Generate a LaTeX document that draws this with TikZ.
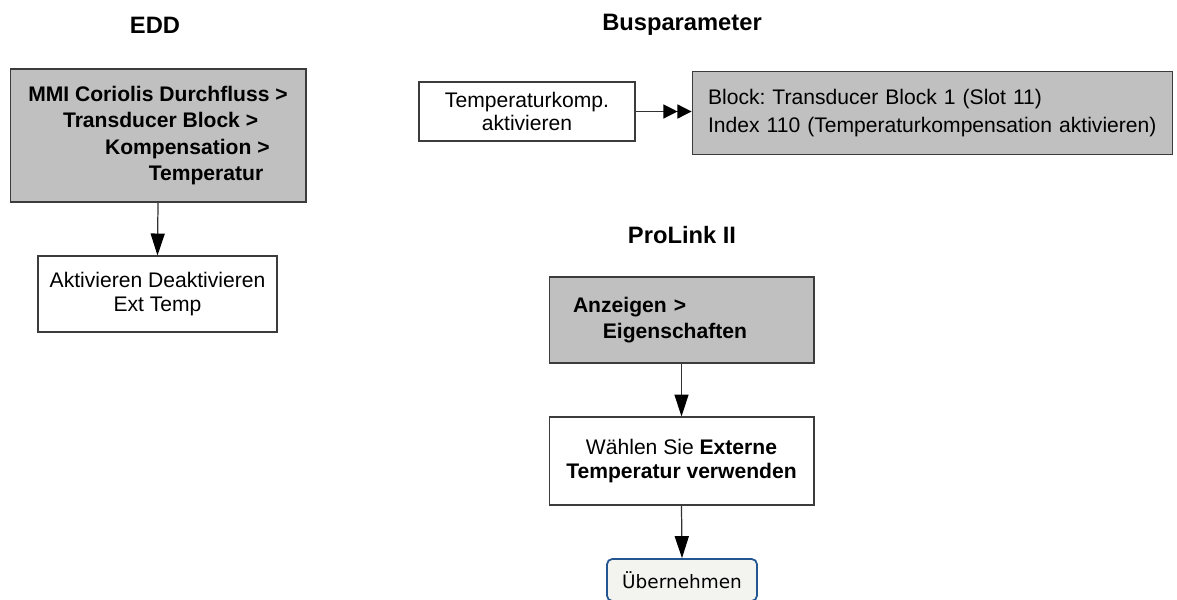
\documentclass[tikz,border=0pt]{standalone}
\usepackage{fontspec}
\setmainfont{Liberation Sans}
\newfontfamily\btnfont{DejaVu Sans}
\frenchspacing
\usetikzlibrary{
    positioning,
    arrows.meta
}
\definecolor{BoxGrey}{RGB}{192,192,192}
\definecolor{EdgeGrey}{RGB}{60,60,60}
\definecolor{LineGrey}{RGB}{50,50,50}
\definecolor{ButtonBlue}{RGB}{35,85,145}
\definecolor{ButtonFill}{RGB}{243,243,239}

\tikzset{
    title/.style={font=\fontsize{13.5}{16}\selectfont\bfseries},
    whitebox/.style={draw=EdgeGrey, fill=white, line width=0.6pt, align=center,
        inner sep=0pt, font=\fontsize{12}{14}\selectfont},
    greybox/.style={whitebox, fill=BoxGrey},
    okbutton/.style={draw=ButtonBlue, fill=ButtonFill, line width=1pt, rounded corners=3pt,
        inner sep=0pt, font=\btnfont\fontsize{10.5}{12}\selectfont},
    flow/.style={draw=LineGrey, line width=0.7pt,
        -{Triangle[width=8pt,length=12.5pt,fill=black,color=black]}},
    dflow/.style={draw=LineGrey, line width=0.7pt,
        -{Triangle[width=8pt,length=8pt,fill=black,color=black]Triangle[width=8pt,length=8pt,fill=black,color=black]}}
}

\begin{document}
\begin{tikzpicture}[x=0.02cm, y=-0.02cm]

        \useasboundingbox (0,0) rectangle (1177,599);

        % Titles
        \node[title] (eddtitle) at (155,25) {EDD};
        \node[title] (bustitle) at (682,25) {Busparameter};
        \node[title] (prolinktitle) at (682,235) {ProLink II};

        % EDD column
        \node[greybox, minimum width=5.92cm, minimum height=2.66cm, align=left,
            font=\fontsize{12}{15}\selectfont\bfseries] (eddmenu) at (158,135.5)
            {MMI Coriolis Durchfluss >\\\hspace*{19.8pt}Transducer Block >\\\hspace*{43.7pt}Kompensation >\\\hspace*{68.6pt}Temperatur};
        \node[whitebox, minimum width=4.78cm, minimum height=1.52cm] (exttemp) at (157.5,294)
            {Aktivieren Deaktivieren\\Ext Temp};
        \draw[flow] (eddmenu.south) -- (exttemp.north);

        % Busparameter
        \node[whitebox, minimum width=4.32cm, minimum height=1.18cm, font=\fontsize{12}{13.5}\selectfont] (tempkomp) at (527,111.5)
            {Temperaturkomp.\\aktivieren};
        \node[greybox, minimum width=9.62cm, minimum height=1.66cm, align=left,
            text width=8.98cm, inner xsep=0.32cm, font=\fontsize{12}{16}\selectfont] (busblock) at (932.5,113)
            {Block: Transducer Block 1 (Slot 11)\\Index 110 (Temperaturkompensation aktivieren)};
        \draw[dflow] (tempkomp.east) -- (busblock.west |- tempkomp.east);

        % ProLink II
        \node[greybox, minimum width=5.3cm, minimum height=1.72cm, align=left,
            text width=4.34cm, inner xsep=0.48cm, font=\fontsize{12}{14.5}\selectfont\bfseries] (anzeigen) at (681.5,320)
            {Anzeigen >\\\hspace*{17pt}Eigenschaften};
        \node[whitebox, minimum width=5.3cm, minimum height=1.76cm, font=\fontsize{12}{13.5}\selectfont] (waehlen) at (681.5,461)
            {W\"ahlen Sie \textbf{Externe}\\\textbf{Temperatur verwenden}};
        \node[okbutton, minimum width=3.0cm, minimum height=0.84cm] (uebernehmen) at (682,580)
            {\"Ubernehmen};
        \draw[flow] (anzeigen.south) -- (waehlen.north);
        \draw[flow] (waehlen.south) -- (uebernehmen.north);

\end{tikzpicture}
\end{document}
